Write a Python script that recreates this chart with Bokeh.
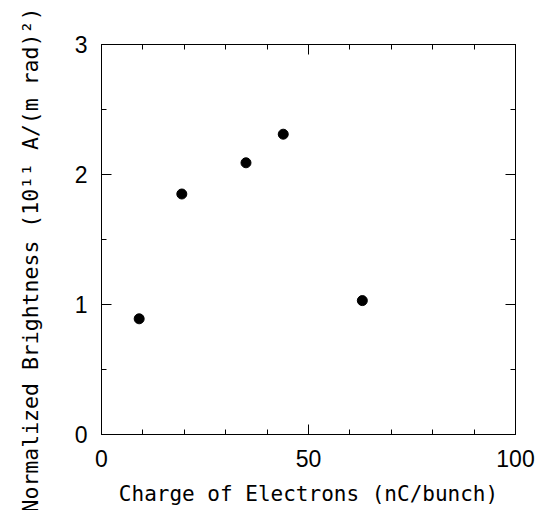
from bokeh.plotting import figure
from bokeh.models import LinearAxis, FixedTicker, Range1d, Title
from bokeh.embed import file_html
from bokeh.resources import INLINE

# Data
charge = [9.1, 19.4, 34.9, 43.9, 63.0]
brightness = [0.89, 1.85, 2.09, 2.31, 1.03]

x_major = [0, 50, 100]
x_minor = [10, 20, 30, 40, 60, 70, 80, 90]
y_major = [0, 1, 2, 3]
y_minor = [0.5, 1.5, 2.5]

x_label = "Charge of Electrons (nC/bunch)"
y_label = "Normalized Brightness (10\u00b9\u00b9 A/(m rad)\u00b2)"

TICK_FONT = "Liberation Sans Narrow, Liberation Sans"
LABEL_FONT = "DejaVu Sans Mono"

p = figure(width=548, height=510, output_backend="svg", toolbar_location=None,
           x_range=Range1d(0, 100), y_range=Range1d(0, 3),
           min_border_left=101, min_border_right=33, min_border_top=44, min_border_bottom=76,
           x_axis_location=None, y_axis_location=None)
p.grid.visible = False
p.outline_line_color = "black"
p.outline_line_width = 1
p.background_fill_color = "white"
p.border_fill_color = "white"

def style(ax, major, minor, labels=True):
    ax.ticker = FixedTicker(ticks=major, minor_ticks=minor)
    ax.major_tick_in = 10
    ax.major_tick_out = 0
    ax.minor_tick_in = 5
    ax.minor_tick_out = 0
    ax.axis_line_color = "black"
    ax.major_tick_line_color = "black"
    ax.minor_tick_line_color = "black"
    if labels:
        ax.major_label_text_font = TICK_FONT
        ax.major_label_text_font_size = "23px"
        ax.major_label_text_color = "black"
    else:
        ax.major_label_text_font_size = "0px"
        ax.major_label_text_color = None

xb = LinearAxis()
style(xb, x_major, x_minor)
xb.major_label_standoff = 15
xb.axis_label = x_label
xb.axis_label_text_font = LABEL_FONT
xb.axis_label_text_font_size = "21px"
xb.axis_label_text_font_style = "normal"
xb.axis_label_text_color = "black"
xb.axis_label_standoff = 12
p.add_layout(xb, "below")

xt = LinearAxis()
style(xt, x_major, x_minor, labels=False)
p.add_layout(xt, "above")

yl = LinearAxis()
style(yl, y_major, y_minor)
yl.major_label_standoff = 14
# invisible spacer label pushes the y title outward
yl.axis_label = "\u00a0"
yl.axis_label_text_font_size = "14px"
yl.axis_label_standoff = 10
p.add_layout(yl, "left")

yr = LinearAxis()
style(yr, y_major, y_minor, labels=False)
p.add_layout(yr, "right")

p.scatter(charge, brightness, size=10, color="black", marker="circle")

ytitle = Title(text=y_label, align="left", offset=-78,
               text_font=LABEL_FONT, text_font_size="21.5px",
               text_font_style="normal", text_color="black", standoff=0)
p.add_layout(ytitle, "left")

open("out.html", "w").write(file_html(p, INLINE))
